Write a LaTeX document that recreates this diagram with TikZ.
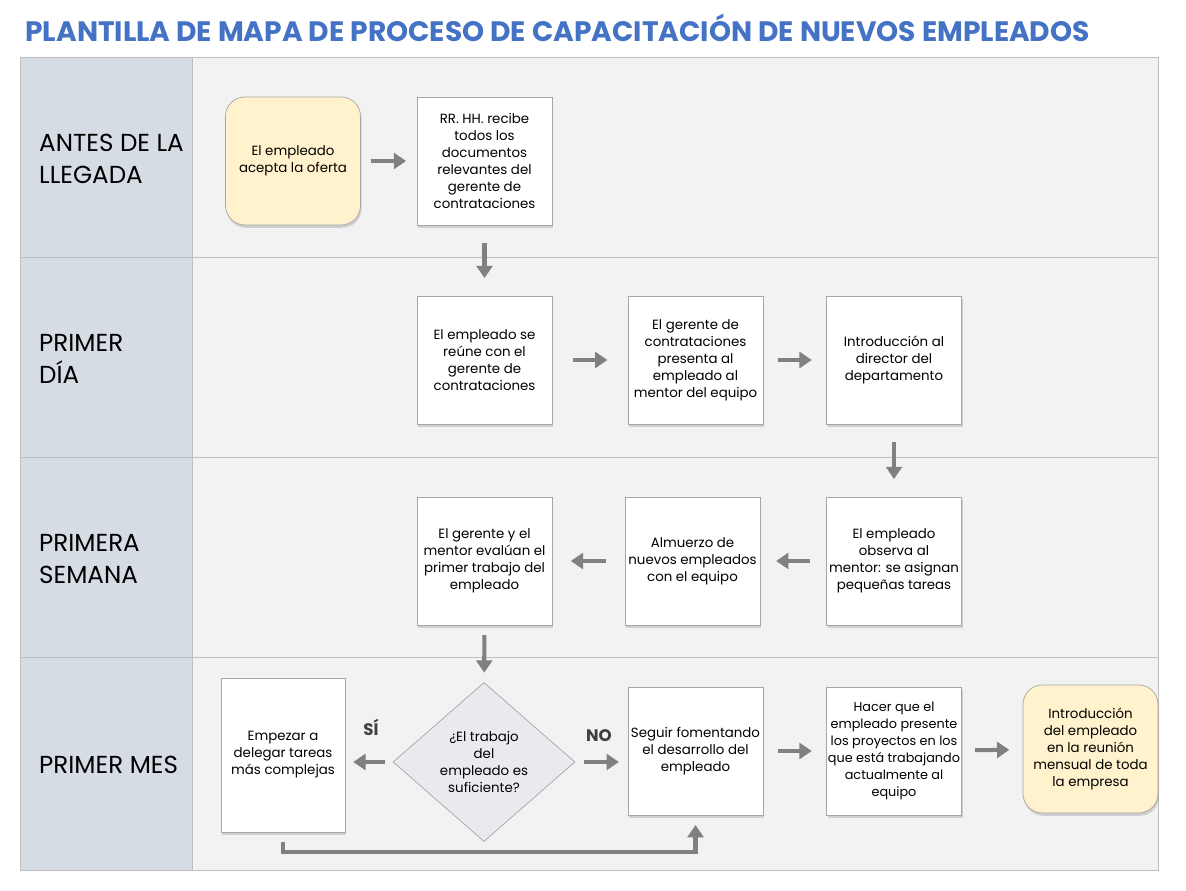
\documentclass[tikz,border=0pt]{standalone}
\usepackage{fontspec}
\setmainfont{Poppins}
\usetikzlibrary{positioning, arrows.meta, shapes.geometric, shadows}

\definecolor{titleblue}{HTML}{4472C4}
\definecolor{lanegray}{HTML}{D6DCE4}
\definecolor{panelgray}{HTML}{F2F2F2}
\definecolor{rulegray}{HTML}{BFBFBF}
\definecolor{boxedge}{HTML}{A6A6A6}
\definecolor{arrowgray}{HTML}{808080}
\definecolor{startyellow}{HTML}{FFF2CC}
\definecolor{decisionfill}{HTML}{E8EAEF}
\definecolor{labelgray}{HTML}{404040}

\begin{document}
\begin{tikzpicture}[
  x=0.02cm, y=-0.02cm,
  font=\fontsize{7.6}{9.7}\selectfont,
  task/.style={
    draw=boxedge, fill=white,
    minimum width=2.7cm, minimum height=2.56cm, align=center, inner sep=0.5pt,
    drop shadow={shadow xshift=0.6pt, shadow yshift=-1.6pt, opacity=0.3}
  },
  milestone/.style={task,
    fill=startyellow, rounded corners=11pt
  },
  decision/.style={
    diamond, draw=boxedge, fill=decisionfill, align=center, inner sep=0pt,
    minimum width=3.64cm, minimum height=3.18cm
  },
  lanelabel/.style={anchor=west, align=left, font=\fontsize{14}{18}\selectfont},
  answer/.style={font=\fontsize{9.5}{11}\selectfont\bfseries, text=labelgray},
  flow/.style={
    -{Triangle[length=7pt, width=9pt]}, line width=2.3pt, draw=arrowgray,
    shorten <=#1, shorten >=#1
  },
  flow/.default=8pt,
]

\useasboundingbox (0,0) rectangle (1186,891);

% Title
\node[anchor=west, inner sep=0pt, text=titleblue, font=\fontsize{16}{20}\selectfont\bfseries] (title) at (25,28)
  {PLANTILLA DE MAPA DE PROCESO DE CAPACITACIÓN DE NUEVOS EMPLEADOS};

% Swimlane frame
\fill[panelgray] (20,57) rectangle (1158,870);
\fill[lanegray] (20,57) rectangle (192,870);
\draw[rulegray] (20,57) rectangle (1158,870);
\draw[rulegray] (192,57) -- (192,870);
\foreach \y in {257,457,657}
  \draw[rulegray] (20,\y) -- (1158,\y);

% Lane names
\node[lanelabel] (lane1) at (33,159) {ANTES DE LA\\LLEGADA};
\node[lanelabel] (lane2) at (33,359) {PRIMER\\DÍA};
\node[lanelabel] (lane3) at (33,559) {PRIMERA\\SEMANA};
\node[lanelabel] (lane4) at (33,765) {PRIMER MES};

% Antes de la llegada
\node[milestone] (offer) at (293,161) {El empleado\\acepta la oferta};
\node[task] (docs) at (484.5,161)
  {RR. HH. recibe\\todos los\\documentos\\relevantes del\\gerente de\\contrataciones};

% Primer dia
\node[task] (meet) at (484.5,360) {El empleado se\\reúne con el\\gerente de\\contrataciones};
\node[task] (mentor) at (695.5,360)
  {El gerente de\\contrataciones\\presenta al\\empleado al\\mentor del equipo};
\node[task] (director) at (894,360) {Introducción al\\director del\\departamento};

% Primera semana
\node[task] (observe) at (894,561)
  {El empleado\\observa al\\mentor: se asignan\\pequeñas tareas};
\node[task] (lunch) at (692.5,561) {Almuerzo de\\nuevos empleados\\con el equipo};
\node[task] (review) at (484.5,561)
  {El gerente y el\\mentor evalúan el\\primer trabajo del\\empleado};

% Primer mes
\node[decision] (check) at (484,762) {¿El trabajo\\del\\empleado es\\suficiente?};
\node[task, minimum width=2.48cm, minimum height=3.08cm] (delegate) at (283,755)
  {Empezar a\\delegar tareas\\más complejas};
\node[task] (develop) at (695.5,751) {Seguir fomentando\\el desarrollo del\\empleado};
\node[task, font=\fontsize{7.3}{9.7}\selectfont] (present) at (894,751)
  {Hacer que el\\empleado presente\\los proyectos en los\\que está trabajando\\actualmente al\\equipo};
\node[milestone] (monthly) at (1090.5,749)
  {Introducción\\del empleado\\en la reunión\\mensual de toda\\la empresa};

\node[answer] (yes) at (371,727) {SÍ};
\node[answer] (no) at (599,736) {NO};

% Connectors
\draw[flow=6pt] (offer) -- (docs);
\draw[flow=10pt] (docs) -- (meet);
\draw[flow=11.5pt] (meet) -- (mentor);
\draw[flow=8.2pt] (mentor) -- (director);
\draw[flow=10pt] (director) -- (observe);
\draw[flow=9pt] (observe) -- (lunch);
\draw[flow=10.5pt] (lunch) -- (review);
\draw[flow=5.5pt] (review) -- (check);
\draw[flow=4.5pt] (check.west) -- (check.west -| delegate.east);
\draw[flow=5pt] (check.east) -- (check.east -| develop.west);
\draw[flow=8.2pt] (develop) -- (present);
\draw[flow=7.6pt] (present) -- (monthly);
\draw[flow=5.5pt] (delegate.south) -- ++(0,20) -| (develop.south);

\end{tikzpicture}
\end{document}
